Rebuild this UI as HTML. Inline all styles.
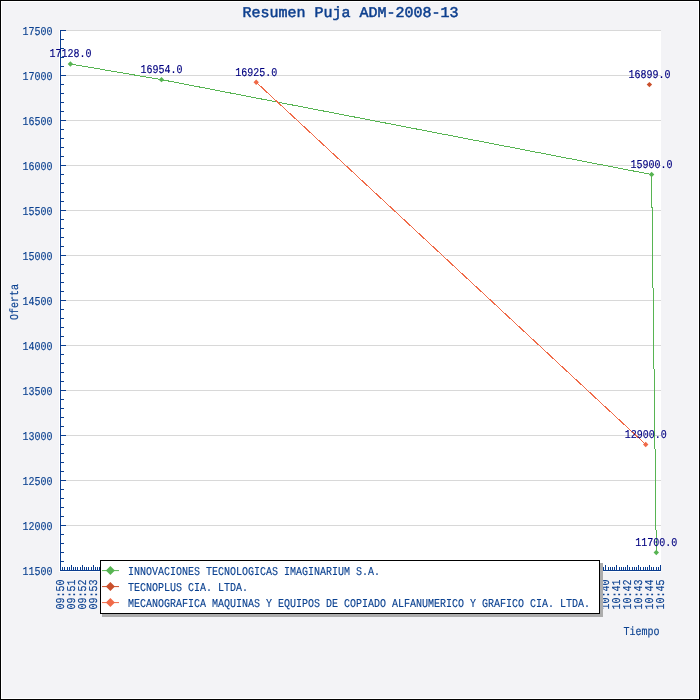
<!DOCTYPE html>
<html><head><meta charset="utf-8"><style>html,body{margin:0;padding:0;width:700px;height:700px;overflow:hidden;background:#f3f3f6}svg{display:block}</style></head>
<body><svg style="will-change:transform" width="700" height="700" viewBox="0 0 700 700" text-rendering="geometricPrecision">
<rect x="0" y="0" width="700" height="700" fill="#000"/>
<rect x="1" y="1" width="698" height="698" fill="#fff"/>
<rect x="2" y="2" width="696" height="696" fill="#f3f3f6"/>
<rect x="59" y="30" width="602" height="542" fill="#fff"/>
<path d="M60 570.5H661 M60 525.5H661 M60 480.5H661 M60 435.5H661 M60 390.5H661 M60 345.5H661 M60 300.5H661 M60 255.5H661 M60 210.5H661 M60 165.5H661 M60 120.5H661 M60 75.5H661 M60 30.5H661" stroke="#d8d8d8" stroke-width="1" fill="none" shape-rendering="crispEdges"/>
<path d="M60.5 30V571 M60 570.5H66 M60 561.5H64 M60 552.5H64 M60 543.5H64 M60 534.5H64 M60 525.5H66 M60 516.5H64 M60 507.5H64 M60 498.5H64 M60 489.5H64 M60 480.5H66 M60 471.5H64 M60 462.5H64 M60 453.5H64 M60 444.5H64 M60 435.5H66 M60 426.5H64 M60 417.5H64 M60 408.5H64 M60 399.5H64 M60 390.5H66 M60 381.5H64 M60 372.5H64 M60 363.5H64 M60 354.5H64 M60 345.5H66 M60 336.5H64 M60 327.5H64 M60 318.5H64 M60 309.5H64 M60 300.5H66 M60 291.5H64 M60 282.5H64 M60 273.5H64 M60 264.5H64 M60 255.5H66 M60 246.5H64 M60 237.5H64 M60 228.5H64 M60 219.5H64 M60 210.5H66 M60 201.5H64 M60 192.5H64 M60 183.5H64 M60 174.5H64 M60 165.5H66 M60 156.5H64 M60 147.5H64 M60 138.5H64 M60 129.5H64 M60 120.5H66 M60 111.5H64 M60 102.5H64 M60 93.5H64 M60 84.5H64 M60 75.5H66 M60 66.5H64 M60 57.5H64 M60 48.5H64 M60 39.5H64 M60 30.5H66 M60 570.5H661 M60.5 570V565 M62.5 570V567 M64.5 570V567 M67.5 570V567 M69.5 570V567 M71.5 570V565 M73.5 570V567 M75.5 570V567 M77.5 570V567 M80.5 570V567 M82.5 570V565 M84.5 570V567 M86.5 570V567 M88.5 570V567 M91.5 570V567 M93.5 570V565 M95.5 570V567 M97.5 570V567 M99.5 570V567 M101.5 570V567 M104.5 570V565 M106.5 570V567 M108.5 570V567 M110.5 570V567 M112.5 570V567 M115.5 570V565 M117.5 570V567 M119.5 570V567 M121.5 570V567 M123.5 570V567 M125.5 570V565 M128.5 570V567 M130.5 570V567 M132.5 570V567 M134.5 570V567 M136.5 570V565 M139.5 570V567 M141.5 570V567 M143.5 570V567 M145.5 570V567 M147.5 570V565 M149.5 570V567 M152.5 570V567 M154.5 570V567 M156.5 570V567 M158.5 570V565 M160.5 570V567 M163.5 570V567 M165.5 570V567 M167.5 570V567 M169.5 570V565 M171.5 570V567 M173.5 570V567 M176.5 570V567 M178.5 570V567 M180.5 570V565 M182.5 570V567 M184.5 570V567 M187.5 570V567 M189.5 570V567 M191.5 570V565 M193.5 570V567 M195.5 570V567 M197.5 570V567 M200.5 570V567 M202.5 570V565 M204.5 570V567 M206.5 570V567 M208.5 570V567 M211.5 570V567 M213.5 570V565 M215.5 570V567 M217.5 570V567 M219.5 570V567 M221.5 570V567 M224.5 570V565 M226.5 570V567 M228.5 570V567 M230.5 570V567 M232.5 570V567 M235.5 570V565 M237.5 570V567 M239.5 570V567 M241.5 570V567 M243.5 570V567 M245.5 570V565 M248.5 570V567 M250.5 570V567 M252.5 570V567 M254.5 570V567 M256.5 570V565 M259.5 570V567 M261.5 570V567 M263.5 570V567 M265.5 570V567 M267.5 570V565 M269.5 570V567 M272.5 570V567 M274.5 570V567 M276.5 570V567 M278.5 570V565 M280.5 570V567 M283.5 570V567 M285.5 570V567 M287.5 570V567 M289.5 570V565 M291.5 570V567 M293.5 570V567 M296.5 570V567 M298.5 570V567 M300.5 570V565 M302.5 570V567 M304.5 570V567 M307.5 570V567 M309.5 570V567 M311.5 570V565 M313.5 570V567 M315.5 570V567 M317.5 570V567 M320.5 570V567 M322.5 570V565 M324.5 570V567 M326.5 570V567 M328.5 570V567 M331.5 570V567 M333.5 570V565 M335.5 570V567 M337.5 570V567 M339.5 570V567 M341.5 570V567 M344.5 570V565 M346.5 570V567 M348.5 570V567 M350.5 570V567 M352.5 570V567 M355.5 570V565 M357.5 570V567 M359.5 570V567 M361.5 570V567 M363.5 570V567 M365.5 570V565 M368.5 570V567 M370.5 570V567 M372.5 570V567 M374.5 570V567 M376.5 570V565 M379.5 570V567 M381.5 570V567 M383.5 570V567 M385.5 570V567 M387.5 570V565 M389.5 570V567 M392.5 570V567 M394.5 570V567 M396.5 570V567 M398.5 570V565 M400.5 570V567 M403.5 570V567 M405.5 570V567 M407.5 570V567 M409.5 570V565 M411.5 570V567 M413.5 570V567 M416.5 570V567 M418.5 570V567 M420.5 570V565 M422.5 570V567 M424.5 570V567 M427.5 570V567 M429.5 570V567 M431.5 570V565 M433.5 570V567 M435.5 570V567 M437.5 570V567 M440.5 570V567 M442.5 570V565 M444.5 570V567 M446.5 570V567 M448.5 570V567 M451.5 570V567 M453.5 570V565 M455.5 570V567 M457.5 570V567 M459.5 570V567 M461.5 570V567 M464.5 570V565 M466.5 570V567 M468.5 570V567 M470.5 570V567 M472.5 570V567 M475.5 570V565 M477.5 570V567 M479.5 570V567 M481.5 570V567 M483.5 570V567 M485.5 570V565 M488.5 570V567 M490.5 570V567 M492.5 570V567 M494.5 570V567 M496.5 570V565 M499.5 570V567 M501.5 570V567 M503.5 570V567 M505.5 570V567 M507.5 570V565 M509.5 570V567 M512.5 570V567 M514.5 570V567 M516.5 570V567 M518.5 570V565 M520.5 570V567 M523.5 570V567 M525.5 570V567 M527.5 570V567 M529.5 570V565 M531.5 570V567 M533.5 570V567 M536.5 570V567 M538.5 570V567 M540.5 570V565 M542.5 570V567 M544.5 570V567 M547.5 570V567 M549.5 570V567 M551.5 570V565 M553.5 570V567 M555.5 570V567 M557.5 570V567 M560.5 570V567 M562.5 570V565 M564.5 570V567 M566.5 570V567 M568.5 570V567 M571.5 570V567 M573.5 570V565 M575.5 570V567 M577.5 570V567 M579.5 570V567 M581.5 570V567 M584.5 570V565 M586.5 570V567 M588.5 570V567 M590.5 570V567 M592.5 570V567 M595.5 570V565 M597.5 570V567 M599.5 570V567 M601.5 570V567 M603.5 570V567 M605.5 570V565 M608.5 570V567 M610.5 570V567 M612.5 570V567 M614.5 570V567 M616.5 570V565 M619.5 570V567 M621.5 570V567 M623.5 570V567 M625.5 570V567 M627.5 570V565 M629.5 570V567 M632.5 570V567 M634.5 570V567 M636.5 570V567 M638.5 570V565 M640.5 570V567 M643.5 570V567 M645.5 570V567 M647.5 570V567 M649.5 570V565 M651.5 570V567 M653.5 570V567 M656.5 570V567 M658.5 570V567 M660.5 570V565" stroke="#0a3d8f" stroke-width="1" fill="none" shape-rendering="crispEdges"/>
<text transform="translate(52.5 574.8) scale(0.8333 1)" text-anchor="end" font-family="Liberation Mono" font-size="12" fill="#0c4291" stroke="#0c4291" stroke-width="0.15">11500</text>
<text transform="translate(52.5 529.8) scale(0.8333 1)" text-anchor="end" font-family="Liberation Mono" font-size="12" fill="#0c4291" stroke="#0c4291" stroke-width="0.15">12000</text>
<text transform="translate(52.5 484.8) scale(0.8333 1)" text-anchor="end" font-family="Liberation Mono" font-size="12" fill="#0c4291" stroke="#0c4291" stroke-width="0.15">12500</text>
<text transform="translate(52.5 439.8) scale(0.8333 1)" text-anchor="end" font-family="Liberation Mono" font-size="12" fill="#0c4291" stroke="#0c4291" stroke-width="0.15">13000</text>
<text transform="translate(52.5 394.8) scale(0.8333 1)" text-anchor="end" font-family="Liberation Mono" font-size="12" fill="#0c4291" stroke="#0c4291" stroke-width="0.15">13500</text>
<text transform="translate(52.5 349.8) scale(0.8333 1)" text-anchor="end" font-family="Liberation Mono" font-size="12" fill="#0c4291" stroke="#0c4291" stroke-width="0.15">14000</text>
<text transform="translate(52.5 304.8) scale(0.8333 1)" text-anchor="end" font-family="Liberation Mono" font-size="12" fill="#0c4291" stroke="#0c4291" stroke-width="0.15">14500</text>
<text transform="translate(52.5 259.8) scale(0.8333 1)" text-anchor="end" font-family="Liberation Mono" font-size="12" fill="#0c4291" stroke="#0c4291" stroke-width="0.15">15000</text>
<text transform="translate(52.5 214.8) scale(0.8333 1)" text-anchor="end" font-family="Liberation Mono" font-size="12" fill="#0c4291" stroke="#0c4291" stroke-width="0.15">15500</text>
<text transform="translate(52.5 169.8) scale(0.8333 1)" text-anchor="end" font-family="Liberation Mono" font-size="12" fill="#0c4291" stroke="#0c4291" stroke-width="0.15">16000</text>
<text transform="translate(52.5 124.8) scale(0.8333 1)" text-anchor="end" font-family="Liberation Mono" font-size="12" fill="#0c4291" stroke="#0c4291" stroke-width="0.15">16500</text>
<text transform="translate(52.5 79.8) scale(0.8333 1)" text-anchor="end" font-family="Liberation Mono" font-size="12" fill="#0c4291" stroke="#0c4291" stroke-width="0.15">17000</text>
<text transform="translate(52.5 34.8) scale(0.8333 1)" text-anchor="end" font-family="Liberation Mono" font-size="12" fill="#0c4291" stroke="#0c4291" stroke-width="0.15">17500</text>
<text transform="translate(64.0 609.5) rotate(-90) scale(0.8333 1)" font-family="Liberation Mono" font-size="12" fill="#0c4291" stroke="#0c4291" stroke-width="0.15">09:50</text>
<text transform="translate(74.9090909090909 609.5) rotate(-90) scale(0.8333 1)" font-family="Liberation Mono" font-size="12" fill="#0c4291" stroke="#0c4291" stroke-width="0.15">09:51</text>
<text transform="translate(85.81818181818181 609.5) rotate(-90) scale(0.8333 1)" font-family="Liberation Mono" font-size="12" fill="#0c4291" stroke="#0c4291" stroke-width="0.15">09:52</text>
<text transform="translate(96.72727272727272 609.5) rotate(-90) scale(0.8333 1)" font-family="Liberation Mono" font-size="12" fill="#0c4291" stroke="#0c4291" stroke-width="0.15">09:53</text>
<text transform="translate(609.4545454545455 609.5) rotate(-90) scale(0.8333 1)" font-family="Liberation Mono" font-size="12" fill="#0c4291" stroke="#0c4291" stroke-width="0.15">10:40</text>
<text transform="translate(620.3636363636364 609.5) rotate(-90) scale(0.8333 1)" font-family="Liberation Mono" font-size="12" fill="#0c4291" stroke="#0c4291" stroke-width="0.15">10:41</text>
<text transform="translate(631.2727272727273 609.5) rotate(-90) scale(0.8333 1)" font-family="Liberation Mono" font-size="12" fill="#0c4291" stroke="#0c4291" stroke-width="0.15">10:42</text>
<text transform="translate(642.1818181818181 609.5) rotate(-90) scale(0.8333 1)" font-family="Liberation Mono" font-size="12" fill="#0c4291" stroke="#0c4291" stroke-width="0.15">10:43</text>
<text transform="translate(653.0909090909091 609.5) rotate(-90) scale(0.8333 1)" font-family="Liberation Mono" font-size="12" fill="#0c4291" stroke="#0c4291" stroke-width="0.15">10:44</text>
<text transform="translate(664.0 609.5) rotate(-90) scale(0.8333 1)" font-family="Liberation Mono" font-size="12" fill="#0c4291" stroke="#0c4291" stroke-width="0.15">10:45</text>
<text transform="translate(17.7 302.1) rotate(-90) scale(0.8333 1)" text-anchor="middle" font-family="Liberation Mono" font-size="12" fill="#0c4291" stroke="#0c4291" stroke-width="0.15">Oferta</text>
<text transform="translate(659.5 635) scale(0.8333 1)" text-anchor="end" font-family="Liberation Mono" font-size="12" fill="#0c4291" stroke="#0c4291" stroke-width="0.15">Tiempo</text>
<text x="350.5" y="16.5" text-anchor="middle" font-family="Liberation Mono" font-size="15" fill="#0d3f8e" stroke="#0d3f8e" stroke-width="0.5">Resumen Puja ADM-2008-13</text>
<path d="M70.4 63.98 L161.5 79.64 L651.6 174.5 L656.3 552.5" stroke="#57b452" stroke-width="1" fill="none" shape-rendering="crispEdges"/>
<path d="M70.4 61.279999999999994L73.10000000000001 63.98L70.4 66.67999999999999L67.7 63.98Z" fill="#57b452"/>
<path d="M161.5 76.94L164.2 79.64L161.5 82.34L158.8 79.64Z" fill="#57b452"/>
<path d="M651.6 171.8L654.3000000000001 174.5L651.6 177.2L648.9 174.5Z" fill="#57b452"/>
<path d="M656.3 549.8L659.0 552.5L656.3 555.2L653.5999999999999 552.5Z" fill="#57b452"/>
<path d="M649.4 81.89L652.1 84.59L649.4 87.29L646.6999999999999 84.59Z" fill="#c94f2b"/>
<path d="M256.2 82.25 L645.7 444.5" stroke="#f06a48" stroke-width="1" fill="none" shape-rendering="crispEdges"/>
<path d="M256.2 79.55L258.9 82.25L256.2 84.95L253.5 82.25Z" fill="#f06a48"/>
<path d="M645.7 441.8L648.4000000000001 444.5L645.7 447.2L643.0 444.5Z" fill="#f06a48"/>
<text transform="translate(70.4 57.48) scale(0.8333 1)" text-anchor="middle" font-family="Liberation Mono" font-size="12" fill="#000080" stroke="#000080" stroke-width="0.15">17128.0</text>
<text transform="translate(161.5 73.14) scale(0.8333 1)" text-anchor="middle" font-family="Liberation Mono" font-size="12" fill="#000080" stroke="#000080" stroke-width="0.15">16954.0</text>
<text transform="translate(651.6 168.0) scale(0.8333 1)" text-anchor="middle" font-family="Liberation Mono" font-size="12" fill="#000080" stroke="#000080" stroke-width="0.15">15900.0</text>
<text transform="translate(656.3 546.0) scale(0.8333 1)" text-anchor="middle" font-family="Liberation Mono" font-size="12" fill="#000080" stroke="#000080" stroke-width="0.15">11700.0</text>
<text transform="translate(649.4 78.09) scale(0.8333 1)" text-anchor="middle" font-family="Liberation Mono" font-size="12" fill="#000080" stroke="#000080" stroke-width="0.15">16899.0</text>
<text transform="translate(256.2 75.75) scale(0.8333 1)" text-anchor="middle" font-family="Liberation Mono" font-size="12" fill="#000080" stroke="#000080" stroke-width="0.15">16925.0</text>
<text transform="translate(645.7 438.0) scale(0.8333 1)" text-anchor="middle" font-family="Liberation Mono" font-size="12" fill="#000080" stroke="#000080" stroke-width="0.15">12900.0</text>
<rect x="102" y="563" width="501" height="54" fill="#acacac"/>
<rect x="100.5" y="560.5" width="499" height="53" fill="#fff" stroke="#000" stroke-width="1"/>
<path d="M102 570.6H119" stroke="#57b452" stroke-width="1"/>
<path d="M110.4 566.1L114.9 570.6L110.4 575.1L105.9 570.6Z" fill="#57b452"/>
<text transform="translate(128 575.4) scale(0.8333 1)" font-family="Liberation Mono" font-size="12" fill="#0c4291" stroke="#0c4291" stroke-width="0.15">INNOVACIONES TECNOLOGICAS IMAGINARIUM S.A.</text>
<path d="M102 586.6H119" stroke="#c94f2b" stroke-width="1"/>
<path d="M110.4 582.1L114.9 586.6L110.4 591.1L105.9 586.6Z" fill="#c94f2b"/>
<text transform="translate(128 591.4) scale(0.8333 1)" font-family="Liberation Mono" font-size="12" fill="#0c4291" stroke="#0c4291" stroke-width="0.15">TECNOPLUS CIA. LTDA.</text>
<path d="M102 602.6H119" stroke="#f06a48" stroke-width="1"/>
<path d="M110.4 598.1L114.9 602.6L110.4 607.1L105.9 602.6Z" fill="#f06a48"/>
<text transform="translate(128 607.4) scale(0.8333 1)" font-family="Liberation Mono" font-size="12" fill="#0c4291" stroke="#0c4291" stroke-width="0.15">MECANOGRAFICA MAQUINAS Y EQUIPOS DE COPIADO ALFANUMERICO Y GRAFICO CIA. LTDA.</text>
</svg></body></html>
